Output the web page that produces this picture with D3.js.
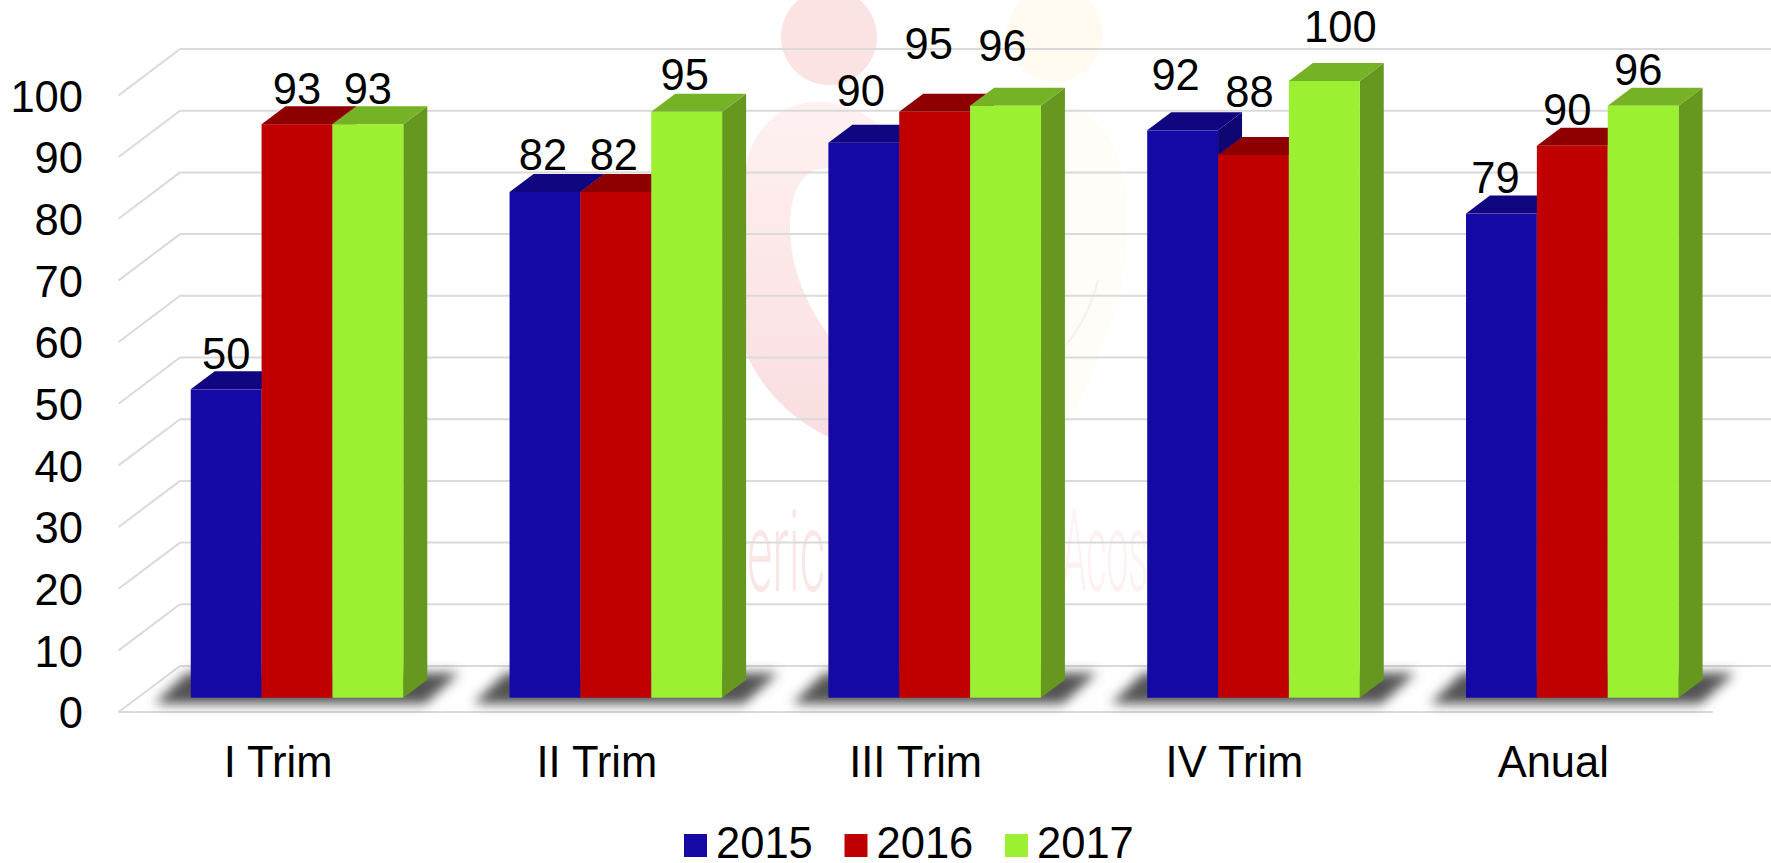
<!DOCTYPE html>
<html><head><meta charset="utf-8">
<style>html,body{margin:0;padding:0;background:#fff;overflow:hidden}svg{display:block}text{font-family:"Liberation Sans",Arial,sans-serif;fill:#000}</style>
<script src="https://cdn.jsdelivr.net/npm/d3@7/dist/d3.min.js"></script>
</head><body>
<script>
const categories = ["I Trim","II Trim","III Trim","IV Trim","Anual"];
const years = ["2015","2016","2017"];
const values2015 = [50,82,90,92,78.5];
const values2016 = [93,82,95,88,89.5];
const values2017 = [93,95,96,100,96];
const yTicks = [0,10,20,30,40,50,60,70,80,90,100];
const labelNudgeX2015 = [0,-2,-3,-7,-6];
const labelNudgeX2016 = [0,-2,-6,-4,-5];
const labelNudgeX2017 = [0,-2,-3,16,-5];
const labelNudgeY2015 = [-20.4,-21.6,-37,-40,-20.3];
const labelNudgeY2016 = [-20,-21.6,-53,-48,-20.8];
const labelNudgeY2017 = [-20,-21.4,-45,-39.3,-20.8];
const frontColors = ["#1409A5","#C00000","#9CF032"];
const topColors = ["#100680","#8E0000","#76B226"];
const sideColors = ["#0E0672","#7E0000","#66981F"];

const W=1771,H=863,fs=43.5;
const series=[values2015,values2016,values2017];
const nudgeX=[labelNudgeX2015,labelNudgeX2016,labelNudgeX2017];
const nudgeY=[labelNudgeY2015,labelNudgeY2016,labelNudgeY2017];
const svg=d3.select("body").append("svg").attr("width",W).attr("height",H);
const defs=svg.append("defs");
defs.append("filter").attr("id","soft").attr("x","-20%").attr("y","-80%").attr("width","140%").attr("height","260%")
  .append("feGaussianBlur").attr("stdDeviation",6);
const pinkGrad=defs.append("linearGradient").attr("id","pinkBody").attr("x1",0).attr("x2",0).attr("y1",0).attr("y2",1);
pinkGrad.append("stop").attr("offset","0").attr("stop-color","#FEF1F1");
pinkGrad.append("stop").attr("offset","1").attr("stop-color","#FADDDF");

const frontLeft=118.6,frontRight=1712.7,backLeft=180;
const yBar=d3.scaleLinear().domain([0,100]).range([697.7,81]);
const yBack=d3.scaleLinear().domain([0,100]).range([666,49]);
const yFront=d3.scaleLinear().domain([0,100]).range([712,95.4]);
const x0=d3.scaleBand().domain(categories).range([frontLeft,frontRight]).paddingInner(1/3).paddingOuter(1/6);
const x1=d3.scaleBand().domain(years).range([0,x0.bandwidth()]);
const barShift=19,depthX=24,depthY=18;

// watermark
const wm=svg.append("g");
wm.append("circle").attr("cx",829).attr("cy",37).attr("r",48).attr("fill","#FBE3E4");
wm.append("circle").attr("cx",1055).attr("cy",34).attr("r",48).attr("fill","#FFFBF1");
wm.append("path").attr("fill","url(#pinkBody)").attr("d","M745 170 C752 125 785 102 817 102 C850 102 880 118 900 150 L900 170 C870 168 840 165 815 170 C797 178 790 200 790 228 C790 265 805 305 832 340 L900 400 L850 445 C800 430 760 390 745 350 Z");
wm.append("path").attr("fill","#FFFDF7").attr("d","M1060 105 C1085 102 1110 125 1122 170 C1132 220 1128 290 1100 350 C1090 385 1075 415 1060 430 Z");
wm.append("path").attr("fill","none").attr("stroke","#FBEFEA").attr("stroke-width",2).attr("d","M1098 280 C1092 305 1082 325 1066 345");
wm.append("text").attr("x",747).attr("y",591).attr("font-size",113).attr("font-weight",300).attr("textLength",78).attr("lengthAdjust","spacingAndGlyphs").style("fill","#FBE6E6").style("font-family","Roboto").text("eric");
wm.append("text").attr("x",1062).attr("y",591).attr("font-size",113).attr("font-weight",300).attr("textLength",86).attr("lengthAdjust","spacingAndGlyphs").style("fill","#FEF1F1").style("font-family","Roboto").text("Acos");

// grid
const grid=svg.append("g").attr("fill","none").attr("stroke","#DADADA").attr("stroke-width",2);
grid.selectAll(".back").data(yTicks).join("line").attr("x1",backLeft).attr("x2",W)
  .attr("y1",d=>yBack(d)).attr("y2",d=>yBack(d));
grid.selectAll(".wall").data(yTicks).join("line").attr("x1",frontLeft).attr("x2",backLeft)
  .attr("y1",d=>yFront(d)).attr("y2",d=>yBack(d));
grid.append("line").attr("x1",frontLeft).attr("x2",frontRight).attr("y1",yFront(0)).attr("y2",yFront(0));

// shadows
const shadowY0=yBar(0)+6, shadowY1=yBar(0)-25;
svg.append("g").selectAll("polygon").data(categories).join("polygon")
  .attr("points",c=>{
    const l=x0(c)+barShift, r=l+x0.bandwidth();
    return [[l-36,shadowY0],[r+22,shadowY0],[r+56,shadowY1],[l-4,shadowY1]].join(" ");
  })
  .attr("fill","#525252").attr("filter","url(#soft)");

// bars
const barData=[];
categories.forEach((c,ci)=>years.forEach((y,si)=>barData.push({c,ci,y,si,v:series[si][ci]})));
const xOf=d=>x0(d.c)+barShift+x1(d.y);
const bars=svg.append("g").selectAll("g").data(barData).join("g");
bars.append("polygon").attr("fill",d=>sideColors[d.si]).attr("points",d=>{
  const r=xOf(d)+x1.bandwidth(),t=yBar(d.v),b=yBar(0);
  return [[r,t],[r+depthX,t-depthY],[r+depthX,b-depthY],[r,b]].join(" ");
});
bars.append("polygon").attr("fill",d=>topColors[d.si]).attr("points",d=>{
  const l=xOf(d),r=l+x1.bandwidth(),t=yBar(d.v);
  return [[l,t],[l+depthX,t-depthY],[r+depthX,t-depthY],[r,t]].join(" ");
});
bars.append("rect").attr("fill",d=>frontColors[d.si]).attr("x",xOf).attr("y",d=>yBar(d.v))
  .attr("width",x1.bandwidth()).attr("height",d=>yBar(0)-yBar(d.v));

// data labels
svg.append("g").selectAll("text").data(barData).join("text")
  .attr("text-anchor","middle").attr("font-size",fs)
  .attr("x",d=>xOf(d)+x1.bandwidth()/2+nudgeX[d.si][d.ci])
  .attr("y",d=>yBar(d.v)+nudgeY[d.si][d.ci])
  .text(d=>Math.round(d.v));

// y axis
const yAxis=svg.append("g").attr("transform",`translate(${frontLeft},2)`)
  .call(d3.axisLeft(yFront).tickValues(yTicks).tickSize(0).tickPadding(35.6).tickFormat(d3.format("d")));
yAxis.select(".domain").remove();
yAxis.selectAll("text").attr("font-size",fs).style("font-family",'"Liberation Sans"').style("fill","#000");

// x axis
const xAxis=svg.append("g").attr("transform",`translate(0,${yFront(0)})`)
  .call(d3.axisBottom(x0).tickSize(0).tickPadding(34.5));
xAxis.select(".domain").remove();
xAxis.selectAll("text").attr("font-size",fs).style("font-family",'"Liberation Sans"').style("fill","#000");

// legend
const lx=d3.scalePoint().domain(years).range([684,1005]);
const legend=svg.append("g").selectAll("g").data(years).join("g");
legend.append("rect").attr("x",d=>lx(d)).attr("y",834).attr("width",23).attr("height",23).attr("fill",(d,i)=>frontColors[i]);
legend.append("text").attr("x",d=>lx(d)+32).attr("y",858).attr("font-size",fs).text(d=>d);
</script>
</body></html>
